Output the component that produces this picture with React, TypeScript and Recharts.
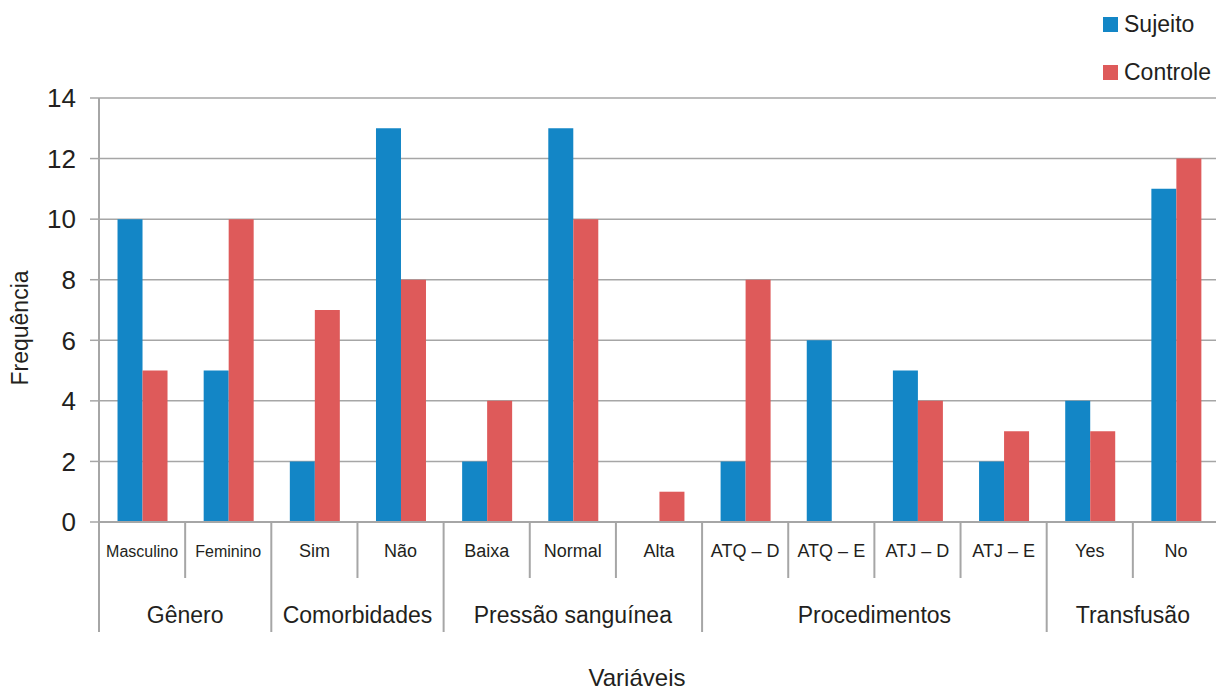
import { Bar, BarChart, CartesianGrid, XAxis, YAxis } from "recharts";

const categories = [
  "Masculino", "Feminino", "Sim", "Não", "Baixa", "Normal", "Alta",
  "ATQ – D", "ATQ – E", "ATJ – D", "ATJ – E", "Yes", "No",
];
const groups = ["Gênero", "Gênero", "Comorbidades", "Comorbidades",
  "Pressão sanguínea", "Pressão sanguínea", "Pressão sanguínea",
  "Procedimentos", "Procedimentos", "Procedimentos", "Procedimentos",
  "Transfusão", "Transfusão"];
const sujeito = [10, 5, 2, 13, 2, 13, 0, 2, 6, 5, 2, 4, 11];
const controle = [5, 10, 7, 8, 4, 10, 1, 8, 0, 4, 3, 3, 12];
const yTicks = [0, 2, 4, 6, 8, 10, 12, 14];

const data = categories.map((name, i) => ({
  name,
  group: groups[i],
  sujeito: sujeito[i],
  controle: controle[i],
}));

const W = 1219;
const H = 693;
const LEFT = 99;
const TOP = 98;
const BOTTOM = 171;
const AXIS_Y = H - BOTTOM;
const BAND = (W - LEFT) / categories.length;
const BLUE = "#1386c6";
const RED = "#de5a5a";
const GRAY = "#a6a6a6";
const INK = "#231f20";
const FONT = "'Liberation Sans', Arial, sans-serif";

function CategoryTick(props: any) {
  const { x, index } = props;
  const name = categories[index];
  const group = groups[index];
  const left = x - BAND / 2;
  const groupStart = index === 0 || groups[index - 1] !== group;
  let groupLabel = null;
  if (groupStart) {
    const count = groups.filter((g) => g === group).length;
    groupLabel = (
      <text x={left + (BAND * count) / 2} y={AXIS_Y + 101} textAnchor="middle"
        fontSize={23} fill={INK} fontFamily={FONT}>
        {group}
      </text>
    );
  }
  const small = name === "Masculino" || name === "Feminino";
  return (
    <g>
      <line x1={left} x2={left} y1={AXIS_Y} y2={groupStart ? AXIS_Y + 110 : AXIS_Y + 56}
        stroke={GRAY} strokeWidth={2} />
      <text x={x} y={AXIS_Y + 35} textAnchor="middle" fontSize={small ? 16 : 18}
        fill={INK} fontFamily={FONT}>
        {name}
      </text>
      {groupLabel}
    </g>
  );
}

const legendItems = [
  { label: "Sujeito", color: BLUE },
  { label: "Controle", color: RED },
];

export default function App() {
  return (
    <div style={{ position: "absolute", left: 0, top: 0, width: 1216, height: H, overflow: "hidden", background: "#fff" }}>
      <BarChart width={W} height={H} data={data} barCategoryGap="21.5%" barGap={0}
        margin={{ top: TOP, right: 0, left: 0, bottom: 0 }}>
        <CartesianGrid vertical={false} stroke={GRAY} strokeWidth={1.5} />
        <YAxis width={LEFT} domain={[0, 14]} ticks={yTicks} interval={0}
          axisLine={{ stroke: GRAY, strokeWidth: 2 }}
          tickLine={{ stroke: GRAY, strokeWidth: 1.5 }} tickSize={9} tickMargin={14}
          tick={{ fontSize: 26, fill: INK, fontFamily: FONT }}
          label={{ content: () => (
            <text x={0} y={0} transform="translate(28 328) rotate(-90)" textAnchor="middle"
              fontSize={23} fill={INK} fontFamily={FONT}>
              Frequência
            </text>
          ) }} />
        <XAxis dataKey="name" height={BOTTOM} interval={0}
          axisLine={{ stroke: GRAY, strokeWidth: 2 }} tickLine={false}
          tick={<CategoryTick />}
          label={{ content: () => (
            <text x={637} y={686} textAnchor="middle" fontSize={24} fill={INK} fontFamily={FONT}>
              Variáveis
            </text>
          ) }} />
        <Bar dataKey="sujeito" name="Sujeito" fill={BLUE} isAnimationActive={false} />
        <Bar dataKey="controle" name="Controle" fill={RED} isAnimationActive={false} />
      </BarChart>
      <div style={{ position: "absolute", left: 1103, top: 0, fontFamily: FONT, fontSize: 23, color: INK }}>
        {legendItems.map((it) => (
          <div key={it.label} style={{ display: "flex", alignItems: "center", height: 48 }}>
            <span style={{ width: 15, height: 15, background: it.color, marginRight: 6 }} />
            {it.label}
          </div>
        ))}
      </div>
    </div>
  );
}
